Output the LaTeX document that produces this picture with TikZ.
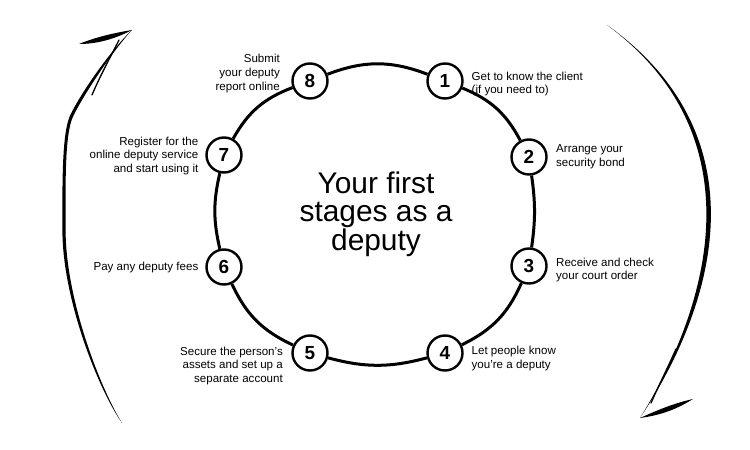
\documentclass[tikz,border=0pt]{standalone}
\usepackage{fontspec}
\setmainfont{Liberation Sans}
\begin{document}
\begin{tikzpicture}[x=1bp,y=-1bp,
  num/.style={circle, draw, line width=2.4bp, fill=white, minimum size=35bp, inner sep=0pt,
    font=\bfseries\fontsize{19}{19}\selectfont},
  labl/.style={inner sep=0pt, anchor=west, align=left, font=\fontsize{11.6}{13.6}\selectfont},
  labr/.style={inner sep=0pt, anchor=east, align=right, font=\fontsize{11.6}{13.6}\selectfont},
  ring/.style={line width=3bp},
  barb/.style={line width=1.3bp, line cap=round}]
\useasboundingbox (0,0) rectangle (750,450);

% steps
\node[num] (n1) at (445,81) {1};
\node[num] (n2) at (529,157) {2};
\node[num] (n3) at (529,266) {3};
\node[num] (n4) at (445,353) {4};
\node[num] (n5) at (310,353) {5};
\node[num] (n6) at (224,267) {6};
\node[num] (n7) at (224,155) {7};
\node[num] (n8) at (310,81) {8};

% ring
\draw[ring] (n8) to[bend left=21] (n1);
\draw[ring] (n1) to[bend left=20] (n2);
\draw[ring] (n2) to[bend left=8] (n3);
\draw[ring] (n3) to[bend left=20] (n4);
\draw[ring] (n4) to[bend left=15] (n5);
\draw[ring] (n5) to[bend left=20] (n6);
\draw[ring] (n6) to[bend left=13] (n7);
\draw[ring] (n7) to[bend left=20] (n8);

% title
\node[align=center, inner sep=0pt, font=\fontsize{30}{28.5}\selectfont] (title) at (376,214)
  {Your first\\stages as a\\deputy};

% labels
\node[labl] (l1) at (471.5,84) {Get to know the client\\(if you need to)};
\node[labl] (l2) at (556,157) {Arrange your\\security bond};
\node[labl] (l3) at (556,270) {Receive and check\\your court order};
\node[labl] (l4) at (471.5,358.5) {Let people know\\you're a deputy};
\node[labr] (l5) at (283,366) {Secure the person's\\assets and set up a\\separate account};
\node[labr] (l6) at (198.5,268) {Pay any deputy fees};
\node[labr] (l7) at (198.5,156) {Register for the\\online deputy service\\and start using it};
\node[labr] (l8) at (280,73.5) {Submit\\your deputy\\report online};

% left sweeping arrow
\fill (122,423) .. controls (99,390.5) and (62.4,300) .. (62.4,230)
  .. controls (62.4,185) and (61.6,132.3) .. (70.6,114.3)
  .. controls (84.1,87.6) and (113.8,46.8) .. (132,30)
  .. controls (115.2,48.2) and (86.9,89) .. (73.4,115.7)
  .. controls (64.4,133.7) and (65.6,185) .. (65.6,230)
  .. controls (65.6,300) and (101,389.5) .. (122,423) -- cycle;
\fill (132,30) .. controls (114,33) and (96,37) .. (79,44)
  .. controls (97,44) and (115,39) .. (132,30) -- cycle;
\draw[barb] (119,40) .. controls (111,56) and (100,76) .. (92,95);

% right sweeping arrow
\fill (607,25) .. controls (755,130) and (725,290) .. (640,418)
  .. controls (719,290) and (749,130) .. (607,25) -- cycle;
\fill (640,418) .. controls (660,409) and (675,403) .. (693,399)
  .. controls (677,409) and (662,415) .. (640,418) -- cycle;
\draw[barb] (676,349) .. controls (668,367) and (659,385) .. (651,403);
\end{tikzpicture}
\end{document}
